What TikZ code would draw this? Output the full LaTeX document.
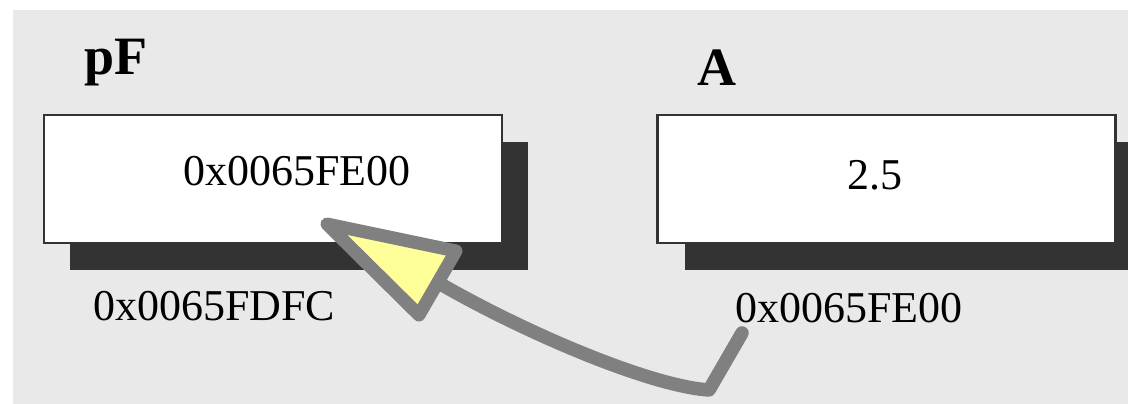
\documentclass[tikz,border=0pt]{standalone}
\usepackage{fontspec}
\setmainfont{Liberation Serif}
\definecolor{bgc}{RGB}{233,233,233}
\definecolor{shd}{RGB}{51,51,51}
\definecolor{arr}{RGB}{128,128,128}
\definecolor{yel}{RGB}{255,255,153}
\tikzset{
  memcell/.style={draw=shd, line width=2.6pt, fill=white, minimum width=458pt, minimum height=128pt, inner sep=0pt},
  valtext/.style={font=\fontsize{44}{50}\selectfont, inner sep=0pt, anchor=base},
  addrtext/.style={font=\fontsize{44}{50}\selectfont, inner sep=0pt, anchor=base west},
  nametext/.style={font=\fontsize{54}{60}\selectfont\bfseries, inner sep=0pt, anchor=base west},
  ptrline/.style={draw=arr, line width=13.5pt, line cap=round, line join=round},
  ptrhead/.style={draw=arr, fill=yel, line width=13pt, line join=round}
}
\begin{document}
\begin{tikzpicture}[x=1pt,y=-1pt]
\useasboundingbox (0,0) rectangle (1128,404);
\fill[bgc] (13,10) rectangle (1128,404);
% shadows
\fill[shd] (70,142) rectangle (528,270);
\fill[shd] (685,142) rectangle (1128,270);
% cells
\node[memcell] (pf) at (273,179) {};
\node[memcell] (a) at (886.5,179) {};
% names
\node[nametext] (pfname) at (84,75) {pF};
\node[nametext] (aname) at (697,85) {A};
% values
\node[valtext] (pfval) at (297,185) {0x0065FE00};
\node[valtext] (aval) at (875,189) {2.5};
% addresses
\node[addrtext] (pfaddr) at (93,320) {0x0065FDFC};
\node[addrtext] (aaddr) at (735,322) {0x0065FE00};
% pointer connector
\coordinate (s) at (742,333);
\coordinate (c) at (709,390);
\coordinate (b) at (437,282);
\draw[ptrline] (s) -- (c) .. controls (650,386) and (525,333) .. (b);
\coordinate (t1) at (327,224);
\coordinate (t2) at (456,251);
\coordinate (t3) at (419,315);
\filldraw[ptrhead] (t1) -- (t2) -- (t3) -- cycle;
\end{tikzpicture}
\end{document}
